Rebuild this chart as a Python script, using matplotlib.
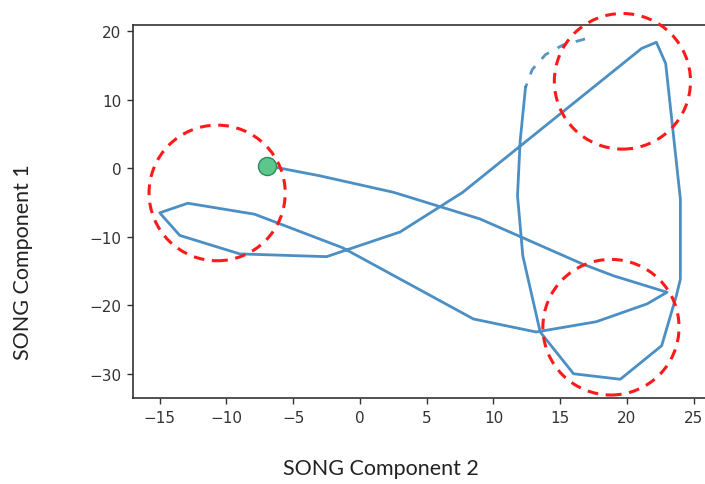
import matplotlib
matplotlib.use("Agg")
import matplotlib.pyplot as plt
from matplotlib.patches import Ellipse

# trajectory (solid part)
path_x = [-7.0, -3.0, 2.5, 9.0, 16.7, 19.0, 23.0, 21.5, 17.7, 13.2, 8.5, -1.3, -7.9,
          -12.9, -15.0, -13.5, -9.0, -2.5, 3.0, 7.7, 21.1, 22.2, 22.9, 24.0, 24.0,
          23.7, 22.6, 19.5, 16.0, 13.5, 12.2, 11.8, 12.0, 12.4]
path_y = [0.4, -1.1, -3.5, -7.4, -14.0, -15.7, -18.1, -19.8, -22.4, -23.9, -22.0, -11.6, -6.7,
          -5.1, -6.5, -9.8, -12.5, -12.9, -9.3, -3.5, 17.5, 18.4, 15.3, -4.5, -16.2,
          -18.6, -25.9, -30.8, -30.0, -23.9, -12.8, -4.0, 4.0, 11.8]
# dashed continuation
dash_x = [12.4, 12.9, 13.9, 15.2, 16.9]
dash_y = [11.8, 14.4, 16.6, 18.0, 18.9]
# start point
start_x = [-7.0]
start_y = [0.4]
# highlighted regions (centre x, centre y)
circle_cx = [-10.7, 19.66, 18.8]
circle_cy = [-3.6, 12.7, -23.2]
circle_rx = 5.1
circle_ry = 9.9

xticks = [-15, -10, -5, 0, 5, 10, 15, 20, 25]
yticks = [-30, -20, -10, 0, 10, 20]

fig = plt.figure(figsize=(7.05, 4.85), dpi=100)
ax = fig.add_axes([133.3 / 705, (485 - 399.3) / 485, 575.1 / 705, 373.3 / 485])

blue = "#2b7bba"
ax.plot(path_x, path_y, color=blue, lw=2.0, alpha=0.85, solid_joinstyle="round", zorder=2)
ax.plot(dash_x, dash_y, color=blue, lw=2.0, alpha=0.8, linestyle=(2.0, (3.5, 3.5)), zorder=2)

for cx, cy in zip(circle_cx, circle_cy):
    e = Ellipse((cx, cy), 2 * circle_rx, 2 * circle_ry, fill=False, edgecolor="#ff1a1a",
                lw=2.2, linestyle=(0, (3.5, 2.5)), clip_on=False, zorder=3)
    ax.add_patch(e)

ax.plot(start_x, start_y, "o", markersize=13, markerfacecolor="#5cc68c",
        markeredgecolor="#2e8b57", markeredgewidth=1.0, zorder=4)

ax.set_xlim(-16.98, 26.1)
ax.set_ylim(-33.58, 20.92)
ax.set_xticks(xticks)
ax.set_yticks(yticks)
ax.tick_params(labelsize=11, colors="#333333", length=4.5, width=1.0, pad=4)
for s in ax.spines.values():
    s.set_color("#333333")
    s.set_linewidth(1.2)

fig.text(381 / 705, 1 - 469 / 485, "SONG Component 2", ha="center", va="center",
         fontsize=15.5, family="Lato", color="#222222")
fig.text(23 / 705, 1 - 262 / 485, "SONG Component 1", ha="center", va="center",
         rotation=90, fontsize=15.5, family="Lato", color="#222222")

fig.savefig("out.png", dpi=100)
